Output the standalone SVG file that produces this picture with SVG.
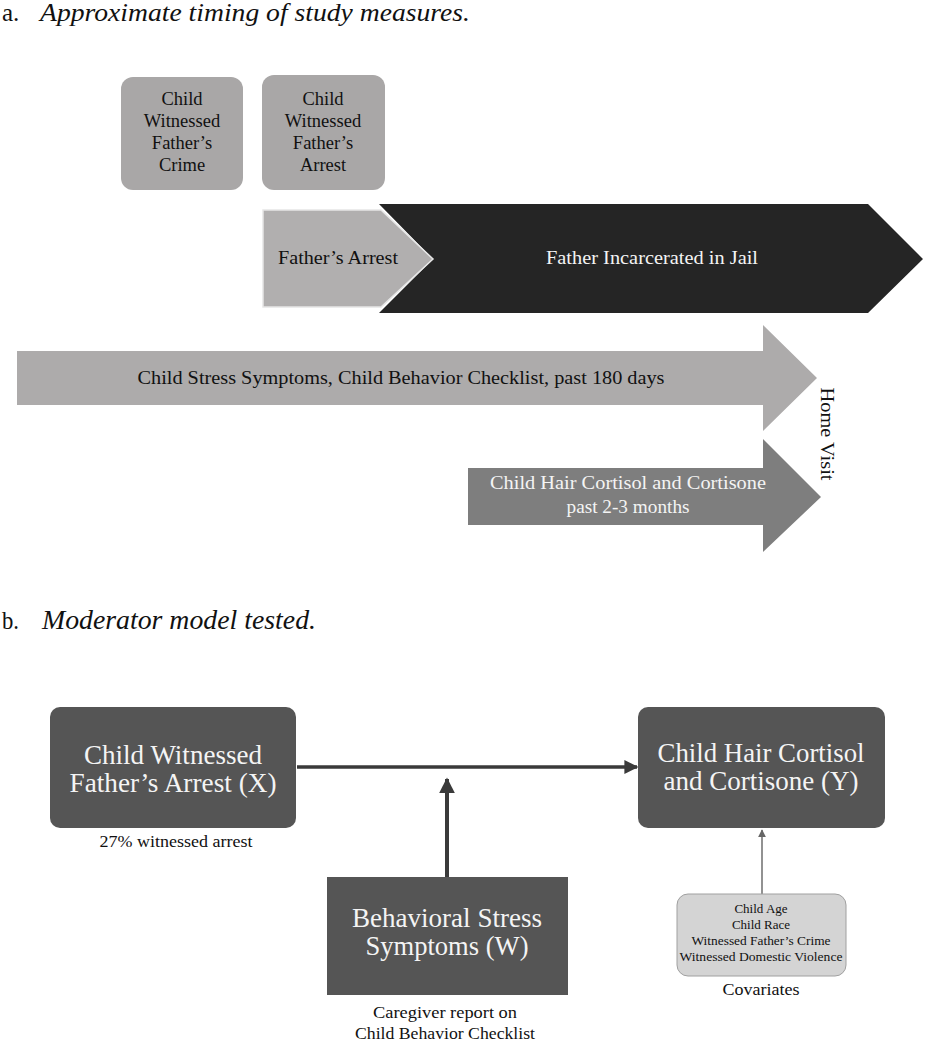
<svg xmlns="http://www.w3.org/2000/svg" width="945" height="1050" viewBox="0 0 945 1050">
<style>
.t{font-family:"Liberation Serif","Times New Roman",serif;}
.it{font-family:"Liberation Serif","Times New Roman",serif;font-style:italic;}
.c{text-anchor:middle;}
.blk{fill:#111;}
.wht{fill:#f4f4f4;}
.box{fill:#a9a7a7;}
.dk{fill:#555555;}
</style>
<defs>
<marker id="ah" viewBox="0 0 10 10" refX="9" refY="5" markerWidth="4" markerHeight="4" orient="auto" markerUnits="strokeWidth">
<path d="M0,0 L10,5 L0,10 z" fill="#3a3a3a"/>
</marker>
<marker id="ahs" viewBox="0 0 10 10" refX="9" refY="5" markerWidth="5" markerHeight="5" orient="auto" markerUnits="strokeWidth">
<path d="M0,0 L10,5 L0,10 z" fill="#666"/>
</marker>
</defs>
<rect width="945" height="1050" fill="#ffffff"/>

<!-- Titles -->
<text class="t blk" x="2" y="21" font-size="25">a.</text>
<text class="it blk" x="40" y="21" font-size="26" textLength="430" lengthAdjust="spacingAndGlyphs">Approximate timing of study measures.</text>
<text class="t blk" x="2" y="629" font-size="26" textLength="17" lengthAdjust="spacingAndGlyphs">b.</text>
<text class="it blk" x="42" y="629" font-size="27" textLength="274" lengthAdjust="spacingAndGlyphs">Moderator model tested.</text>

<!-- Part a -->
<g id="crime-box">
<rect class="box" x="121" y="77" width="122" height="113" rx="12"/>
<text class="t blk c" font-size="18.5"><tspan x="182" y="105">Child</tspan><tspan x="182" y="127">Witnessed</tspan><tspan x="182" y="149">Father’s</tspan><tspan x="182" y="171">Crime</tspan></text>
</g>
<g id="arrest-box">
<rect class="box" x="262" y="75" width="123" height="115" rx="12"/>
<text class="t blk c" font-size="18.5"><tspan x="323" y="105">Child</tspan><tspan x="323" y="127">Witnessed</tspan><tspan x="323" y="149">Father’s</tspan><tspan x="323" y="171">Arrest</tspan></text>
</g>
<g id="incarcerated">
<polygon points="379,204 868,204 923,259 868,313 379,313 433,259" fill="#252525"/>
<text class="t wht c" x="652" y="264" font-size="18" textLength="212" lengthAdjust="spacingAndGlyphs">Father Incarcerated in Jail</text>
</g>
<g id="fathers-arrest">
<polygon points="263,210 381,210 433,259 381,307 263,307" fill="#b1afaf" stroke="#e6e6e6" stroke-width="1.5"/>
<text class="t blk c" x="338" y="264" font-size="18" textLength="120" lengthAdjust="spacingAndGlyphs">Father’s Arrest</text>
</g>
<g id="stress-arrow">
<polygon points="17,351 763,351 763,325 817,378 763,431 763,405 17,405" fill="#adabab"/>
<text class="t blk c" x="401" y="384" font-size="18" textLength="527" lengthAdjust="spacingAndGlyphs">Child Stress Symptoms, Child Behavior Checklist, past 180 days</text>
</g>
<g id="hair-arrow">
<polygon points="468,468 763,468 763,439 821,497 763,552 763,525 468,525" fill="#7e7e7e"/>
<text class="t wht c" font-size="18"><tspan x="628" y="489" textLength="276" lengthAdjust="spacingAndGlyphs">Child Hair Cortisol and Cortisone</tspan><tspan x="628" y="513" textLength="123" lengthAdjust="spacingAndGlyphs">past 2-3 months</tspan></text>
</g>
<g id="home-visit">
<text class="t blk c" font-size="18" transform="translate(821,434) rotate(90)" x="0" y="0" textLength="93" lengthAdjust="spacingAndGlyphs">Home Visit</text>
</g>

<!-- Part b connectors -->
<g id="connectors">
<line x1="297" y1="767" x2="637" y2="767" stroke="#3a3a3a" stroke-width="3.5" marker-end="url(#ah)"/>
<line x1="447" y1="877" x2="447" y2="779" stroke="#3a3a3a" stroke-width="4" marker-end="url(#ah)"/>
<line x1="762" y1="894" x2="762" y2="830" stroke="#777" stroke-width="1.6" marker-end="url(#ahs)"/>
</g>

<g id="node-x">
<rect class="dk" x="50" y="707" width="246" height="121" rx="10"/>
<text class="t wht c" font-size="28"><tspan x="173" y="764" textLength="178" lengthAdjust="spacingAndGlyphs">Child Witnessed</tspan><tspan x="173" y="792" textLength="207" lengthAdjust="spacingAndGlyphs">Father’s Arrest (X)</tspan></text>
<text class="t blk c" x="176" y="847" font-size="16" textLength="153" lengthAdjust="spacingAndGlyphs">27% witnessed arrest</text>
</g>
<g id="node-y">
<rect class="dk" x="638" y="707" width="247" height="121" rx="10"/>
<text class="t wht c" font-size="28"><tspan x="761" y="762" textLength="207" lengthAdjust="spacingAndGlyphs">Child Hair Cortisol</tspan><tspan x="761" y="790" textLength="195" lengthAdjust="spacingAndGlyphs">and Cortisone (Y)</tspan></text>
</g>
<g id="node-w">
<rect class="dk" x="327" y="877" width="241" height="118"/>
<text class="t wht c" font-size="28"><tspan x="447" y="927" textLength="190" lengthAdjust="spacingAndGlyphs">Behavioral Stress</tspan><tspan x="447" y="955" textLength="163" lengthAdjust="spacingAndGlyphs">Symptoms (W)</tspan></text>
<text class="t blk c" font-size="16"><tspan x="445" y="1018" textLength="144" lengthAdjust="spacingAndGlyphs">Caregiver report on</tspan><tspan x="445" y="1039" textLength="180" lengthAdjust="spacingAndGlyphs">Child Behavior Checklist</tspan></text>
</g>
<g id="node-covariates">
<rect x="677" y="894" width="169" height="82" rx="11" fill="#d4d4d4" stroke="#a0a0a0" stroke-width="1"/>
<text class="t blk c" font-size="13"><tspan x="761" y="913">Child Age</tspan><tspan x="761" y="929">Child Race</tspan><tspan x="761" y="945" textLength="139" lengthAdjust="spacingAndGlyphs">Witnessed Father’s Crime</tspan><tspan x="761" y="961" textLength="163" lengthAdjust="spacingAndGlyphs">Witnessed Domestic Violence</tspan></text>
<text class="t blk c" x="761" y="995" font-size="16" textLength="77" lengthAdjust="spacingAndGlyphs">Covariates</text>
</g>
</svg>
